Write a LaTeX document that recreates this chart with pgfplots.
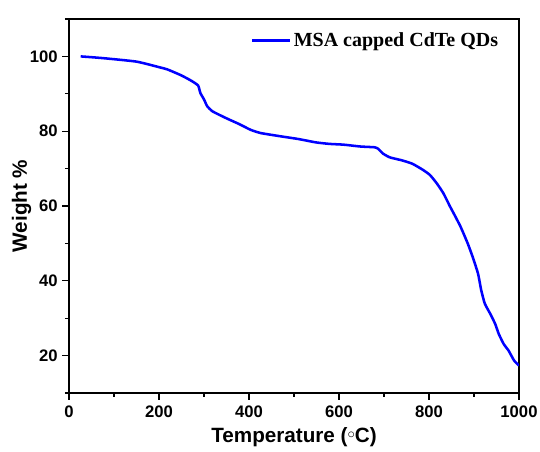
\documentclass[border=0pt]{standalone}
\usepackage{pgfplots}
\pgfplotsset{compat=1.18}
\usepackage{fontspec}
\setmainfont{Liberation Sans}
\newfontfamily\serifbold{Liberation Serif}

\begin{document}
\begin{tikzpicture}
\begin{axis}[
  at={(0pt,0pt)}, anchor=south west,
  scale only axis,
  width=337.5pt, height=280.5pt,
  xmin=0, xmax=1000, ymin=10, ymax=110,
  xtick={0,200,...,1000},
  minor xtick={100,300,...,900},
  ytick={20,40,...,100},
  minor ytick={10,30,...,110},
  xtick pos=left, ytick pos=left,
  major tick length=5pt, minor tick length=3pt,
  tick align=outside,
  tick style={black, line width=0.9pt},
  axis line style={line width=1.1pt},
  /pgf/number format/assume math mode=true,
  /pgf/number format/1000 sep={},
  ticklabel style={font=\fontsize{12.5}{14}\selectfont\bfseries},
  xticklabel style={yshift=-1pt},
  xlabel={Temperature (\raisebox{3pt}{\fontsize{11}{11}\selectfont$\circ$}C)},
  ylabel={Weight \%},
  label style={font=\fontsize{15.5}{18}\selectfont\bfseries},
  xlabel style={yshift=-1pt},
  ylabel style={yshift=-8pt},
  legend style={at={(0.963,0.975)}, anchor=north east, draw=none, fill=none,
    font=\fontsize{15}{17}\selectfont\serifbold\bfseries, inner sep=1pt},
  legend cell align=left,
  legend image code/.code={\draw[#1, line width=2pt] (0pt,0pt) -- (28pt,0pt);},
]
\addplot[color={rgb,255:red,0;green,0;blue,255}, line width=1.9pt, smooth, tension=0.3] coordinates {
(26,100.0) (74,99.55) (150,98.6) (204,97.0) (219,96.5) (250,94.9) (273,93.4)
(287,92.2) (292,90.2) (300,88.5) (307,86.7) (319,85.3) (349,83.5) (380,81.8)
(403,80.4) (426,79.5) (472,78.6) (510,77.9) (549,77.0) (579,76.6) (610,76.4)
(648,75.9) (679,75.7) (687,75.3) (698,74.0) (713,73.0) (740,72.2) (763,71.3)
(786,69.7) (802,68.3) (817,66.1) (832,63.4) (847,59.8) (855,58.0) (870,54.5)
(886,50.0) (897,46.4) (909,41.9) (916,37.5) (924,33.9) (936,31.2) (947,28.5)
(955,25.8) (966,23.1) (977,21.3) (989,18.7) (1000,17.3)
};
\addlegendentry{MSA capped CdTe QDs}
\end{axis}
\pgfresetboundingbox
\path[use as bounding box] (-51.75pt,-44.25pt) rectangle (353.25pt,294.75pt);
\end{tikzpicture}
\end{document}
